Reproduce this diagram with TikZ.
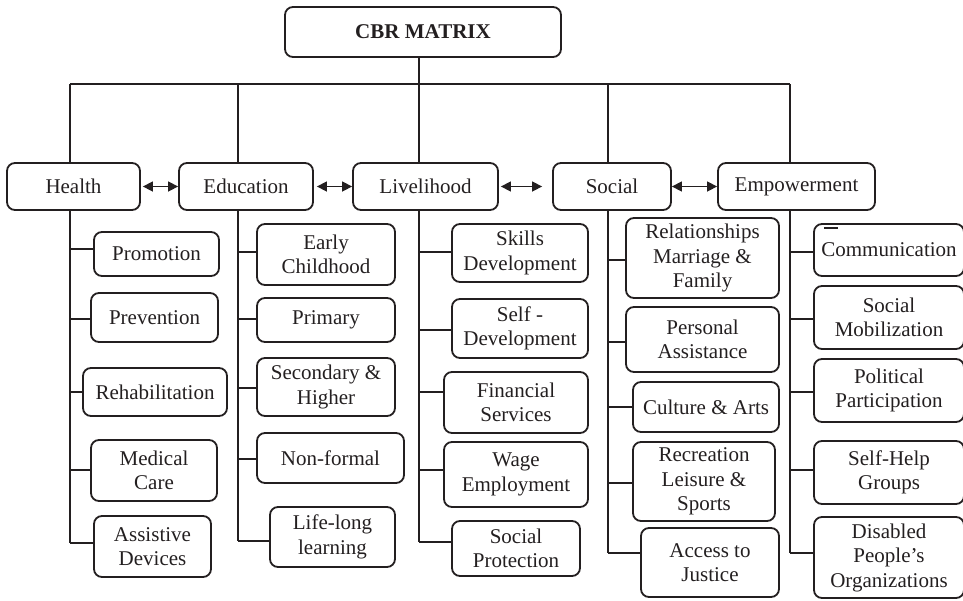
\documentclass[tikz,border=0pt]{standalone}
\usepackage{fontspec}
\setmainfont{Liberation Serif}
\usetikzlibrary{arrows.meta}
\definecolor{ink}{RGB}{35,31,32}
\begin{document}
\begin{tikzpicture}[x=1pt,y=-1pt,
  box/.style={draw=ink, line width=1.8pt, rounded corners=8pt, align=center, inner sep=0pt, text=ink, font=\fontsize{21}{24.5}\selectfont},
  link/.style={draw=ink, line width=1.6pt},
  dbl/.style={draw=ink, line width=1.5pt, {Triangle[length=10pt,width=10pt]}-{Triangle[length=10pt,width=10pt]}}]
\useasboundingbox (0,0) rectangle (963,600);
\newcommand\br[3]{\coordinate (#2c) at ([yshift=#3pt]#2.west); \draw[link] (#1 |- #2c) -- (#2c);}
% top
\node[box, minimum width=276pt, minimum height=50pt, font=\fontsize{21}{24.5}\selectfont\bfseries] (cbr) at (423,32) {CBR MATRIX};
% row
\node[box, minimum width=133pt, minimum height=47pt] (health) at (73.5,186.5) {Health};
\node[box, minimum width=134pt, minimum height=47pt] (edu) at (246,186.5) {Education};
\node[box, minimum width=145pt, minimum height=47pt] (liv) at (425.5,186.5) {Livelihood};
\node[box, minimum width=118pt, minimum height=47pt] (soc) at (612,186.5) {Social};
\node[box, minimum width=157pt, minimum height=47pt] (emp) at (796.5,186.5) {Empowerment};
% health
\node[box, minimum width=125pt, minimum height=44pt] (promo) at (156.5,254) {Promotion};
\node[box, minimum width=127pt, minimum height=49pt] (prev) at (154.5,317.5) {Prevention};
\node[box, minimum width=144pt, minimum height=48pt] (rehab) at (155,392) {Rehabilitation};
\node[box, minimum width=126pt, minimum height=61pt] (med) at (154,470.5) {Medical\\Care};
\node[box, minimum width=117pt, minimum height=61pt] (assist) at (152.5,546.5) {Assistive\\Devices};
% education
\node[box, minimum width=138pt, minimum height=61pt] (early) at (326,254.5) {Early\\Childhood};
\node[box, minimum width=138pt, minimum height=44pt] (primary) at (326,320) {Primary};
\node[box, minimum width=138pt, minimum height=58pt] (second) at (326,387) {Secondary \&\\Higher};
\node[box, minimum width=147pt, minimum height=50pt] (nonformal) at (330.5,458) {Non-formal};
\node[box, minimum width=125pt, minimum height=60pt] (lifelong) at (332.5,537) {Life-long\\learning};
% livelihood
\node[box, minimum width=136pt, minimum height=58pt] (skills) at (520,253) {Skills\\Development};
\node[box, minimum width=136pt, minimum height=59pt] (selfdev) at (520,328.5) {Self -\\Development};
\node[box, minimum width=144pt, minimum height=61pt] (fin) at (516,402.5) {Financial\\Services};
\node[box, minimum width=144pt, minimum height=65pt] (wage) at (516,474.5) {Wage\\Employment};
\node[box, minimum width=128pt, minimum height=55pt] (socprot) at (516,548.5) {Social\\Protection};
% social
\node[box, minimum width=153pt, minimum height=80pt] (rel) at (702.5,258) {Relationships\\Marriage \&\\Family};
\node[box, minimum width=153pt, minimum height=65pt] (pers) at (702.5,339.5) {Personal\\Assistance};
\node[box, minimum width=146pt, minimum height=50pt] (cult) at (706,407) {Culture \& Arts};
\node[box, minimum width=142pt, minimum height=79pt] (recr) at (704,481.5) {Recreation\\Leisure \&\\Sports};
\node[box, minimum width=138pt, minimum height=69pt] (access) at (710,562.5) {Access to\\Justice};
% empowerment
\node[box, minimum width=150pt, minimum height=52pt] (comm) at (889,250) {Communication};
\node[box, minimum width=150pt, minimum height=63pt] (socmob) at (889,317.5) {Social\\Mobilization};
\node[box, minimum width=150pt, minimum height=63pt] (polit) at (889,390.5) {Political\\Participation};
\node[box, minimum width=150pt, minimum height=63pt] (selfhelp) at (889,472.5) {Self-Help\\Groups};
\node[box, minimum width=150pt, minimum height=81pt] (dpo) at (889,557.5) {Disabled\\People’s\\Organizations};
% stray mark above Communication
\draw[ink, line width=1.4pt] ([xshift=11pt,yshift=-5pt]comm.north west) -- ++(14,0);
% bus
\coordinate (tH) at (70,84);
\coordinate (tE) at (238,84);
\coordinate (tL) at (419,84);
\coordinate (tS) at (608,84);
\coordinate (tM) at (790,84);
\draw[link] (tH) -- (tM);
\draw[link] (cbr.south -| tL) -- (tL);
\draw[link] (tH) -- (tH |- health.north);
\draw[link] (tE) -- (tE |- edu.north);
\draw[link] (tL) -- (tL |- liv.north);
\draw[link] (tS) -- (tS |- soc.north);
\draw[link] (tM) -- (tM |- emp.north);
% arrows
\draw[dbl] ([xshift=2pt]health.east) -- (edu.west);
\draw[dbl] ([xshift=3pt]edu.east) -- (liv.west);
\draw[dbl] ([xshift=2pt]liv.east) -- ([xshift=-10pt]soc.west);
\draw[dbl] (soc.east) -- (emp.west);
% branches
\br{tH}{promo}{5}
\br{tH}{prev}{-1.5}
\br{tH}{rehab}{0}
\br{tH}{med}{0.5}
\br{tH}{assist}{3.5}
\br{tE}{early}{2.5}
\br{tE}{primary}{1}
\br{tE}{second}{-1}
\br{tE}{nonformal}{-1}
\br{tE}{lifelong}{-4}
\br{tL}{skills}{1}
\br{tL}{selfdev}{-1.5}
\br{tL}{fin}{10.5}
\br{tL}{wage}{4.5}
\br{tL}{socprot}{6.5}
\br{tS}{rel}{-2}
\br{tS}{pers}{-2.5}
\br{tS}{cult}{0}
\br{tS}{recr}{-1.5}
\br{tS}{access}{9.5}
\br{tM}{comm}{-2}
\br{tM}{socmob}{-1.5}
\br{tM}{polit}{-1.5}
\br{tM}{selfhelp}{2.5}
\br{tM}{dpo}{4.5}
% trunks
\draw[link] (tH |- health.south) -- (tH |- assistc);
\draw[link] (tE |- edu.south) -- (tE |- lifelongc);
\draw[link] (tL |- liv.south) -- (tL |- socprotc);
\draw[link] (tS |- soc.south) -- (tS |- accessc);
\draw[link] (tM |- emp.south) -- (tM |- dpoc);
\end{tikzpicture}
\end{document}
